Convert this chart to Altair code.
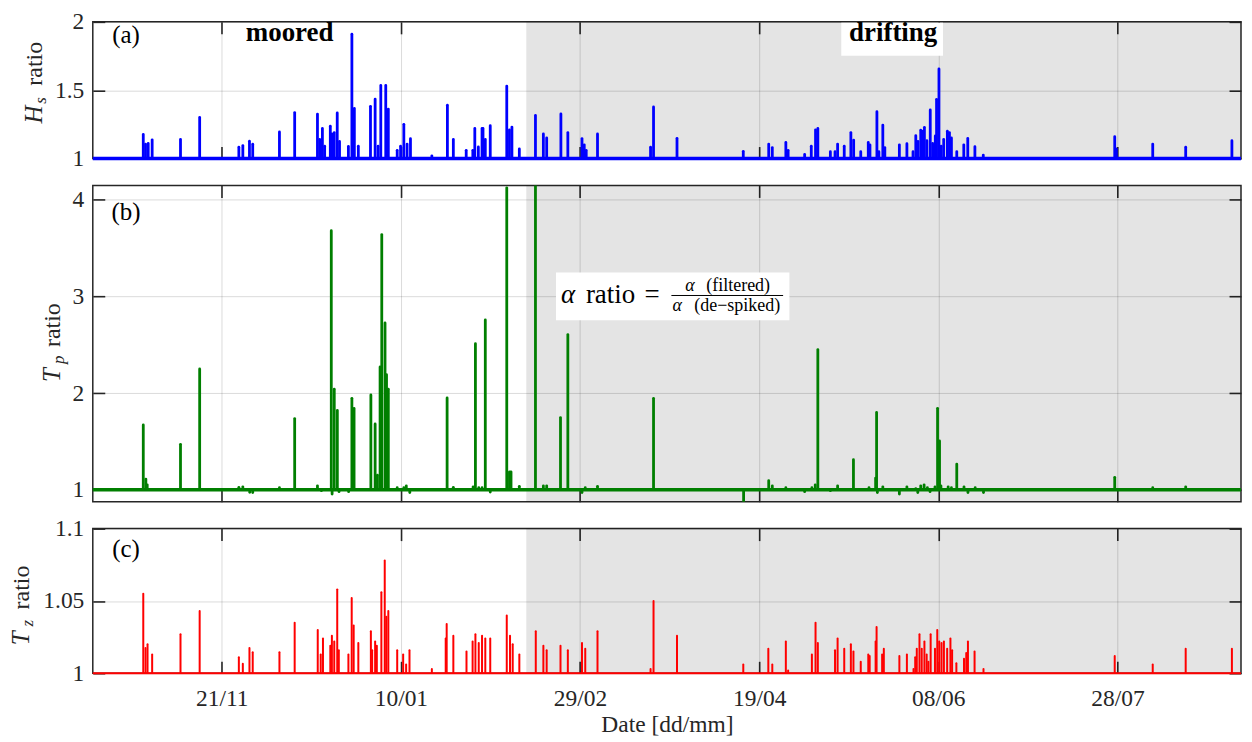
import altair as alt
import pandas as pd

# ---------------- data ----------------
START = pd.Timestamp("2015-10-16 00:00:00")   # left edge of the time axis
END = pd.Timestamp("2016-08-31 12:00:00")     # right edge of the time axis
DRIFT = pd.Timestamp("2016-02-14 00:00:00")   # start of drifting period

tick_dates = ["2015-11-21", "2016-01-10", "2016-02-29", "2016-04-19", "2016-06-08", "2016-07-28"]

# spike positions in days since START, and ratio values
hs_day = [14.09, 14.72, 15.47, 16.57, 24.48, 29.83, 40.77, 41.88, 43.73, 44.64,
          52.10, 56.35, 62.71, 63.34, 64.09, 64.72, 66.30, 66.74, 67.40, 68.23,
          68.87, 71.35, 72.32, 73.01, 74.12, 77.51, 78.81, 79.64, 80.39, 81.77,
          82.49, 84.97, 85.91, 86.82, 87.73, 88.67, 94.64, 98.98, 100.64, 104.23,
          106.08, 106.63, 107.62, 108.65, 108.92, 109.56, 110.94, 115.55, 116.30, 116.99,
          119.06, 123.56, 125.77, 126.69, 130.66, 132.60, 136.55, 137.18, 137.73, 140.88,
          155.69, 156.52, 163.07, 181.57, 188.67, 189.67, 193.45, 194.09, 198.70, 200.55,
          201.74, 202.38, 205.88, 207.18, 207.90, 209.75, 211.60, 212.38, 214.36, 216.46,
          216.93, 218.87, 219.42, 220.52, 221.08, 225.14, 227.24, 228.95, 229.72, 230.33,
          231.10, 231.66, 232.13, 232.82, 233.76, 234.42, 235.17, 235.52, 236.19, 236.82,
          237.51, 238.54, 239.12, 239.67, 241.16, 243.12, 244.23, 246.22, 248.56, 285.25,
          285.72, 295.86, 305.06, 317.96]
hs_val = [1.176, 1.106, 1.11, 1.137, 1.14, 1.30, 1.083, 1.095, 1.127, 1.105,
          1.194, 1.336, 1.325, 1.14, 1.22, 1.09, 1.236, 1.18, 1.19, 1.333,
          1.125, 1.088, 1.91, 1.366, 1.09, 1.382, 1.435, 1.09, 1.535, 1.535,
          1.362, 1.06, 1.09, 1.25, 1.106, 1.145, 1.02, 1.39, 1.14, 1.06,
          1.06, 1.22, 1.085, 1.22, 1.22, 1.14, 1.24, 1.53, 1.21, 1.23,
          1.07, 1.315, 1.18, 1.15, 1.326, 1.19, 1.146, 1.10, 1.06, 1.18,
          1.083, 1.377, 1.148, 1.053, 1.106, 1.08, 1.118, 1.06, 1.03, 1.09,
          1.21, 1.22, 1.05, 1.05, 1.106, 1.09, 1.19, 1.135, 1.05, 1.118,
          1.10, 1.343, 1.05, 1.245, 1.08, 1.10, 1.108, 1.05, 1.167, 1.125,
          1.207, 1.20, 1.228, 1.13, 1.355, 1.11, 1.165, 1.433, 1.655, 1.09,
          1.14, 1.20, 1.19, 1.15, 1.05, 1.10, 1.147, 1.087, 1.025, 1.16,
          1.07, 1.106, 1.083, 1.13]

tp_day = [14.09, 14.81, 15.19, 24.48, 29.83, 40.77, 41.88, 43.81, 44.64, 52.10,
          56.35, 62.71, 63.81, 66.57, 66.80, 67.40, 68.26, 68.73, 71.41, 72.32,
          72.93, 77.62, 78.81, 79.45, 80.19, 80.66, 81.57, 81.99, 82.49, 84.97,
          86.82, 87.51, 88.48, 98.90, 100.64, 106.16, 106.80, 107.73, 108.65, 109.56,
          110.94, 115.55, 116.30, 116.74, 119.06, 123.56, 125.77, 126.69, 130.55, 132.60,
          136.55, 137.46, 140.88, 156.52, 181.66, 188.67, 189.67, 193.45, 198.70, 200.72,
          201.66, 202.38, 205.88, 207.90, 212.32, 216.66, 218.51, 218.78, 219.00, 220.52,
          225.14, 227.24, 229.72, 230.28, 231.10, 232.04, 232.96, 233.70, 235.08, 235.80,
          236.35, 236.74, 238.76, 239.67, 241.16, 243.18, 244.28, 246.30, 248.62, 285.25,
          295.86, 305.06]
tp_val = [1.67, 1.11, 1.05, 1.47, 2.25, 1.025, 1.03, 0.973, 0.97, 1.02,
          1.736, 1.04, 0.99, 3.68, 0.955, 2.04, 1.82, 0.98, 0.98, 1.945,
          1.84, 1.98, 1.68, 1.15, 2.27, 3.64, 2.725, 2.19, 2.04, 1.02,
          1.02, 1.04, 0.97, 1.95, 1.025, 1.03, 2.51, 1.02, 1.02, 2.757,
          0.975, 4.124, 1.185, 1.185, 1.035, 4.148, 1.04, 1.04, 1.746, 2.605,
          0.97, 1.02, 1.035, 1.945, 0.876, 1.093, 1.04, 1.02, 0.98, 1.02,
          1.05, 2.45, 0.99, 1.04, 1.31, 1.02, 1.12, 1.80, 0.97, 1.03,
          0.955, 1.03, 1.01, 0.97, 1.04, 1.05, 1.02, 0.98, 1.03, 1.842,
          1.505, 1.04, 1.03, 1.02, 1.265, 1.03, 0.97, 1.02, 0.97, 1.128,
          1.02, 1.03]

tz_day = [14.09, 14.72, 15.28, 16.57, 24.48, 29.83, 40.77, 41.88, 43.73, 44.64,
          52.10, 56.35, 62.79, 63.62, 64.25, 66.30, 66.74, 67.40, 68.23, 68.67,
          71.35, 72.27, 72.82, 74.12, 77.62, 77.98, 78.81, 79.28, 80.55, 81.49,
          81.93, 82.49, 84.97, 86.63, 87.46, 88.40, 94.64, 98.51, 98.78, 100.64,
          104.31, 106.02, 106.80, 107.73, 108.65, 109.56, 110.94, 115.55, 116.46, 117.21,
          119.06, 123.65, 125.77, 126.69, 130.55, 132.60, 136.55, 137.46, 140.88, 155.69,
          156.52, 163.07, 181.57, 188.56, 189.67, 193.45, 194.09, 200.72, 201.74, 202.38,
          207.18, 207.90, 209.75, 211.60, 212.32, 214.36, 216.46, 216.85, 218.51, 218.78,
          220.33, 220.80, 225.14, 227.24, 229.09, 229.56, 230.00, 230.75, 231.38, 232.13,
          232.76, 233.23, 233.87, 235.08, 235.72, 236.27, 236.91, 237.57, 238.48, 239.39,
          239.86, 241.05, 243.18, 243.81, 244.28, 246.13, 248.62, 285.25, 295.86, 305.06,
          317.96]
tz_val = [1.055, 1.0175, 1.02, 1.013, 1.027, 1.043, 1.011, 1.0065, 1.0175, 1.0145,
          1.0145, 1.035, 1.030, 1.013, 1.024, 1.019, 1.026, 1.022, 1.058, 1.016,
          1.013, 1.052, 1.033, 1.021, 1.029, 1.016, 1.022, 1.019, 1.056, 1.078,
          1.039, 1.043, 1.016, 1.013, 1.006, 1.016, 1.003, 1.024, 1.034, 1.026,
          1.015, 1.022, 1.027, 1.021, 1.026, 1.024, 1.024, 1.040, 1.026, 1.020,
          1.013, 1.029, 1.019, 1.016, 1.019, 1.016, 1.021, 1.017, 1.029, 1.003,
          1.050, 1.026, 1.006, 1.017, 1.006, 1.022, 1.002, 1.013, 1.035, 1.021,
          1.016, 1.024, 1.017, 1.020, 1.015, 1.008, 1.013, 1.012, 1.022, 1.032,
          1.013, 1.017, 1.012, 1.013, 1.003, 1.011, 1.017, 1.027, 1.017, 1.022,
          1.013, 1.008, 1.027, 1.017, 1.030, 1.022, 1.021, 1.022, 1.017, 1.024,
          1.016, 1.007, 1.010, 1.014, 1.022, 1.015, 1.003, 1.012, 1.006, 1.017,
          1.017]

hs_ticks = [1, 1.5, 2]
tp_ticks = [1, 2, 3, 4]
tz_ticks = [1, 1.05, 1.1]

# ---------------- styling ----------------
W = 1151
FONT = "Liberation Serif"
INK = "#262626"
TICK = 12
LFS = 23.5


def iso(ts):
    return ts.strftime("%Y-%m-%dT%H:%M:%S")


def to_times(days):
    return [iso(START + pd.Timedelta(days=d)) for d in days]


def dt(ts):
    return alt.DateTime(year=ts.year, month=ts.month, date=ts.day, hours=ts.hour)


XDOM = [dt(START), dt(END)]
XVALS = [dt(pd.Timestamp(d)) for d in tick_dates]
TK = dict(ticks=True, tickSize=TICK, tickColor=INK, tickWidth=1.6, tickOpacity=1,
          offset=-TICK, domain=False)


def x_main(show):
    if show:
        ax = alt.Axis(orient="bottom", values=XVALS, format="%d/%m", grid=True, labels=True,
                      labelPadding=13, titlePadding=3, **TK)
        return alt.X("t:T", scale=alt.Scale(domain=XDOM), axis=ax, title="Date [dd/mm]")
    ax = alt.Axis(orient="bottom", values=XVALS, grid=True, labels=False, **TK)
    return alt.X("t:T", scale=alt.Scale(domain=XDOM), axis=ax, title=None)


def x_top():
    ax = alt.Axis(orient="top", values=XVALS, grid=False, labels=False, **TK)
    return alt.X("t:T", scale=alt.Scale(domain=XDOM), axis=ax, title=None)


def y_main(dom, ticks):
    ax = alt.Axis(orient="left", values=ticks, format="~g", grid=True, labelPadding=9, **TK)
    return alt.Y("v:Q", scale=alt.Scale(domain=dom, nice=False, zero=False), axis=ax, title=None)


def y_right(dom, ticks):
    ax = alt.Axis(orient="right", values=ticks, grid=False, labels=False, **TK)
    return alt.Y("v:Q", scale=alt.Scale(domain=dom, nice=False, zero=False), axis=ax, title=None)


def txt(s, x, y, size=23.5, weight="normal", style="normal", align="left", angle=0, color="black"):
    kw = dict(font=FONT, fontSize=size, fontWeight=weight, fontStyle=style, align=align,
              baseline="alphabetic", color=color)
    if angle:
        kw["angle"] = angle
    return alt.Chart(alt.Data(values=[{}])).mark_text(**kw).encode(
        x=alt.value(x), y=alt.value(y), text=alt.value(s))


def box(x1, x2, y1, y2):
    return alt.Chart(alt.Data(values=[{}])).mark_rect(color="white").encode(
        x=alt.value(x1), x2=alt.value(x2), y=alt.value(y1), y2=alt.value(y2))


def panel(days, vals, color, sw, bw, dom, yt, H, show_x, extras):
    spikes = pd.DataFrame({"t": to_times(days), "v": vals, "b": [1.0] * len(vals)})
    base = pd.DataFrame({"t": [iso(START)], "t2": [iso(END)], "v": [1.0]})
    shade = pd.DataFrame({"t": [iso(DRIFT)], "t2": [iso(END)]})

    layers = [
        alt.Chart(shade).mark_rect(color="black", opacity=0.105).encode(x=x_top(), x2="t2:T"),
        alt.Chart(base).mark_rule(color=color, strokeWidth=bw).encode(
            x=alt.X("t:T", scale=alt.Scale(domain=XDOM), axis=None), x2="t2:T", y=y_right(dom, yt)),
        alt.Chart(spikes).mark_rule(color=color, strokeWidth=sw, strokeCap="round", clip=True).encode(
            x=x_main(show_x), y=y_main(dom, yt), y2="b:Q"),
    ]
    layers += extras
    return alt.layer(*layers).resolve_axis(x="independent", y="independent").properties(width=W, height=H)


HA, HB, HC = 137, 317, 145

extras_a = [
    txt("(a)", 33.3, 21, size=25, align="center"),
    txt("moored", 197.3, 19.5, size=27, weight="bold", align="center"),
    box(750.3, 852.3, 0.8, 34),
    txt("drifting", 802.3, 19.5, size=27, weight="bold", align="center"),
    txt("H", -50.5, 102, size=25, style="italic", angle=270, color=INK),
    txt("s", -46.5, 82, size=17, style="italic", angle=270, color=INK),
    txt("ratio", -50.5, 64, size=24, angle=270, color=INK),
]

extras_b = [
    txt("(b)", 33.3, 34.7, size=25, align="center"),
    box(464.3, 698.3, 87.3, 135),
    txt("α", 469.3, 117.6, size=27, style="italic"),
    txt("ratio", 494.3, 117.6, size=27),
    txt("=", 553, 117.6, size=27),
    txt("α", 594, 106, size=18, style="italic"),
    txt("(filtered)", 615, 106, size=18),
    txt("α", 581, 126, size=18, style="italic"),
    txt("(de−spiked)", 603, 126, size=18),
    alt.Chart(alt.Data(values=[{}])).mark_rule(color="black", strokeWidth=1).encode(
        x=alt.value(580), x2=alt.value(692), y=alt.value(110.3)),
    txt("T", -32.4, 197, size=25, style="italic", angle=270, color=INK),
    txt("p", -28.4, 179, size=17, style="italic", angle=270, color=INK),
    txt("ratio", -32.4, 162, size=24, angle=270, color=INK),
]

extras_c = [
    txt("(c)", 33.3, 28.5, size=25, align="center"),
    txt("T", -64, 117, size=25, style="italic", angle=270, color=INK),
    txt("z", -60, 98, size=17, style="italic", angle=270, color=INK),
    txt("ratio", -64, 81, size=24, angle=270, color=INK),
]

pa = panel(hs_day, hs_val, "#0000ff", 2.8, 3.5, [1, 2], hs_ticks, HA, False, extras_a)
pb = panel(tp_day, tp_val, "#007f00", 2.8, 3.5, [0.876, 4.148], tp_ticks, HB, False, extras_b)
pc = panel(tz_day, tz_val, "#ff0000", 2.0, 2.2, [1, 1.1], tz_ticks, HC, True, extras_c)

chart = alt.vconcat(pa, pb, pc, spacing=12).properties(
    padding={"left": 0, "top": 0, "right": 0, "bottom": 0}
).configure_view(
    stroke=INK, strokeWidth=1.5
).configure_axis(
    labelFont=FONT, labelFontSize=LFS, labelColor=INK,
    titleFont=FONT, titleFontSize=LFS, titleColor=INK, titleFontWeight="normal",
    gridColor="black", gridOpacity=0.15, gridWidth=1,
)

chart.save("out.html", embed_options={"renderer": "svg", "actions": False})
